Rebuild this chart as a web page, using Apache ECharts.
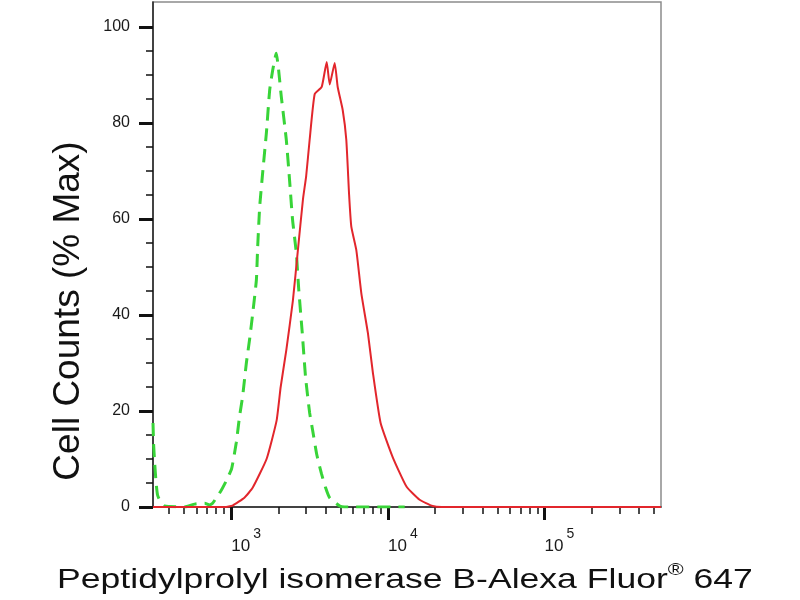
<!DOCTYPE html>
<html><head><meta charset="utf-8">
<script src="https://cdn.jsdelivr.net/npm/echarts@6/dist/echarts.min.js"></script>
<style>html,body{margin:0;padding:0;background:#fff}#c{width:800px;height:600px}</style>
</head><body><div id="c"></div>
<script>
// x values are log10(fluorescence intensity)
const redLogX = [2.5, 2.957, 3.008, 3.085, 3.136, 3.225, 3.289, 3.315, 3.351, 3.393, 3.425, 3.457, 3.478, 3.5, 3.532, 3.577, 3.609, 3.628, 3.66, 3.679, 3.711, 3.734, 3.752, 3.766, 3.798, 3.83, 3.872, 3.904, 3.953, 4.03, 4.119, 4.202, 4.285, 4.343, 5.743];
const redPct  = [0, 0, 0.3, 2, 4, 10, 18, 25, 32.7, 43, 53.5, 64, 69, 76.5, 86, 87.5, 92.7, 88, 92.5, 87.5, 82.7, 76.5, 65, 58.4, 53.5, 44.5, 36.2, 27.9, 17.5, 10.4, 4.2, 1.5, 0.2, 0, 0];
const greenLogX = [2.5, 2.504, 2.511, 2.52, 2.529, 2.549, 2.574, 2.702, 2.766, 2.83, 2.861, 2.881, 2.936, 2.97, 3.002, 3.032, 3.053, 3.072, 3.096, 3.117, 3.139, 3.16, 3.168, 3.181, 3.2, 3.224, 3.245, 3.264, 3.287, 3.302, 3.319, 3.351, 3.372, 3.391, 3.415, 3.43, 3.453, 3.474, 3.5, 3.519, 3.545, 3.575, 3.602, 3.628, 3.692, 3.723, 4.107];
const greenPct  = [17.5, 13, 9, 5, 2.5, 1, 0.2, 0, 0.6, 0.8, 0.4, 0.8, 3.5, 5.6, 8, 13.5, 19, 23, 30, 35, 41, 47.3, 54, 62.5, 69.6, 78, 86.9, 91, 94.5, 91, 85.5, 76.5, 68, 59.8, 52.9, 45.5, 36.2, 27, 19.6, 16, 11, 7, 4, 1.9, 0.2, 0, 0];
const xMajorExponents = [3, 4, 5];
const xMinorTickValues = [400, 500, 600, 700, 800, 900, 2000, 3000, 4000, 5000, 6000, 7000, 8000, 9000, 20000, 30000, 40000, 50000, 60000, 70000, 80000, 90000, 200000, 300000, 400000, 500000];
const yMajorTicks = [0, 20, 40, 60, 80, 100];
const yMinorTicks = [5, 10, 15, 25, 30, 35, 45, 50, 55, 65, 70, 75, 85, 90, 95];
const xTitle = 'Peptidylprolyl isomerase B-Alexa Fluor';
const xTitleSup = '®';
const xTitleEnd = ' 647';
const yTitle = 'Cell Counts (% Max)';

const X_MIN = 2.5, X_MAX = 5.743, Y_MIN = 0, Y_MAX = 105.2;
const FONT = 'Liberation Sans, Arial, sans-serif';
const pair = (xs, ys) => xs.map((x, i) => [x, ys[i]]);
const minorLog = xMinorTickValues.map(v => Math.log10(v));

const chart = echarts.init(document.getElementById('c'), null, {renderer: 'canvas'});
chart.setOption({
  backgroundColor: '#fff',
  animation: false,
  grid: {left: 153, right: 139, top: 2, bottom: 93, show: true, borderColor: '#8c8c8c', borderWidth: 1.5, containLabel: false},
  xAxis: [{
    type: 'value', min: X_MIN, max: X_MAX,
    axisLine: {show: true, onZero: false, lineStyle: {color: '#222', width: 1.5}},
    axisTick: {show: true, customValues: xMajorExponents, length: 13, lineStyle: {color: '#111', width: 3}},
    axisLabel: {show: true, customValues: xMajorExponents, align: 'left', margin: 20,
      formatter: v => '{b|10}{s|' + v + '}',
      rich: {
        b: {fontSize: 17, fontFamily: FONT, color: '#1a1a1a', verticalAlign: 'bottom', lineHeight: 28},
        s: {fontSize: 14, fontFamily: FONT, color: '#1a1a1a', verticalAlign: 'top', lineHeight: 28, padding: [0, 0, 0, 3]}
      }},
    splitLine: {show: false}
  }, {
    type: 'value', min: X_MIN, max: X_MAX, position: 'bottom', gridIndex: 0,
    axisLine: {show: false},
    axisTick: {show: true, customValues: minorLog, length: 7, lineStyle: {color: '#111', width: 1.5}},
    axisLabel: {show: false},
    splitLine: {show: false}
  }],
  yAxis: [{
    type: 'value', min: Y_MIN, max: Y_MAX,
    axisLine: {show: true, onZero: false, lineStyle: {color: '#222', width: 1.5}},
    axisTick: {show: true, customValues: yMajorTicks, length: 14, lineStyle: {color: '#111', width: 3}},
    axisLabel: {show: true, customValues: yMajorTicks, margin: 23, fontSize: 16, fontFamily: FONT, color: '#1a1a1a'},
    splitLine: {show: false}
  }, {
    type: 'value', min: Y_MIN, max: Y_MAX, position: 'left',
    axisLine: {show: false},
    axisTick: {show: true, customValues: yMinorTicks, length: 7, lineStyle: {color: '#111', width: 1.5}},
    axisLabel: {show: false},
    splitLine: {show: false}
  }],
  graphic: [{
    type: 'text', x: 69, y: 311, rotation: Math.PI / 2, z: 10,
    style: {text: yTitle, font: '37px ' + FONT, fill: '#111', align: 'center', verticalAlign: 'middle'}
  }, {
    type: 'text', x: 405, y: 578, scaleX: 1.27, z: 10,
    style: {
      text: '{t|' + xTitle + '}{r|' + xTitleSup + '}{t|' + xTitleEnd + '}',
      align: 'center', verticalAlign: 'middle',
      rich: {
        t: {fontSize: 28, fontFamily: FONT, fill: '#111', verticalAlign: 'bottom', lineHeight: 32},
        r: {fontSize: 17, fontFamily: FONT, fill: '#111', verticalAlign: 'top', lineHeight: 32}
      }
    }
  }],
  series: [{
    type: 'line', name: 'Isotype control', data: pair(greenLogX, greenPct),
    showSymbol: false, smooth: 0.15, z: 3,
    lineStyle: {color: '#38d438', width: 3, type: [13, 8]}
  }, {
    type: 'line', name: 'Peptidylprolyl isomerase B', data: pair(redLogX, redPct),
    showSymbol: false, smooth: 0.15, z: 4,
    lineStyle: {color: '#e2262c', width: 2}
  }]
});
</script></body></html>
